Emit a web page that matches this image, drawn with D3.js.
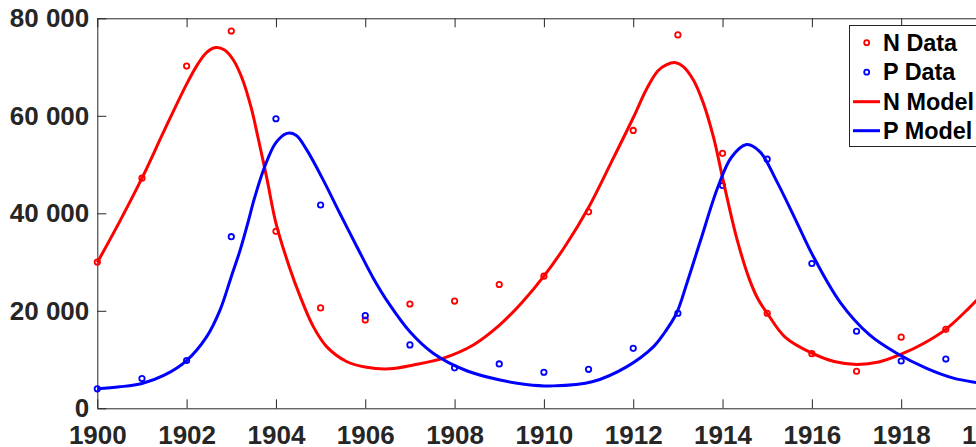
<!DOCTYPE html>
<html>
<head>
<meta charset="utf-8">
<script src="https://cdn.jsdelivr.net/npm/d3@7"></script>
<style>
  html, body { margin: 0; padding: 0; background: #fff; overflow: hidden; }
  svg { display: block; }
  .axis text { font-family: "Liberation Sans", Arial, sans-serif; font-weight: bold; font-size: 26px; fill: #262626; }
  .axis path, .axis line { stroke: #262626; stroke-width: 1; }
  .legend text { font-family: "Liberation Sans", Arial, sans-serif; font-weight: bold; font-size: 23.4px; fill: #000; }
</style>
</head>
<body>
<main></main>
<script>
// observed data (thousands)
const years = d3.range(1900, 1921);
const nData = [30, 47.2, 70.2, 77.4, 36.3, 20.6, 18.1, 21.4, 22, 25.4, 27.1, 40.3, 57, 76.6, 52.3, 19.5, 11.2, 7.6, 14.6, 16.2, 24.7];
const pData = [4, 6.1, 9.8, 35.2, 59.4, 41.7, 19, 13, 8.3, 9.1, 7.4, 8, 12.3, 19.5, 45.7, 51.1, 29.7, 15.8, 9.7, 10.1, 8.6];

// model curves (thousands)
const nModelT = [1900, 1900.5, 1901, 1901.5, 1902, 1902.25, 1902.45, 1902.65, 1902.85, 1903.05, 1903.25, 1903.45, 1903.6, 1903.8, 1904, 1904.3, 1904.54, 1904.84, 1905.14, 1905.58, 1906.03, 1906.55, 1907.08, 1907.75, 1908.42, 1909, 1909.5, 1910, 1910.5, 1911, 1911.5, 1912, 1912.3, 1912.55, 1912.75, 1912.95, 1913.12, 1913.35, 1913.57, 1913.8, 1914.02, 1914.32, 1914.6, 1914.8, 1915, 1915.4, 1916, 1916.5, 1917, 1917.5, 1918, 1918.5, 1919, 1919.5, 1920];
const nModel = [29.9, 38.3, 47.2, 57.0, 66.5, 70.6, 73.0, 74.0, 73.5, 71.4, 67.5, 61.5, 55.5, 47.0, 38.0, 29.0, 23.0, 16.7, 12.6, 9.6, 8.4, 8.1, 8.9, 10.3, 13.0, 17.0, 21.6, 27.1, 33.6, 41.2, 50.3, 59.6, 65.5, 69.2, 70.5, 70.9, 70.1, 67.3, 62.6, 55.5, 46.5, 34.8, 26.5, 22.3, 19.5, 14.6, 11.3, 9.6, 9.0, 9.5, 11.1, 13.3, 16.2, 20.4, 25.2];
const pModelT = [1900, 1900.5, 1901, 1901.5, 1902, 1902.45, 1902.75, 1903, 1903.2, 1903.4, 1903.5, 1903.75, 1904, 1904.25, 1904.45, 1904.69, 1905.06, 1905.43, 1905.81, 1906.18, 1906.55, 1907, 1907.52, 1908.27, 1909.02, 1909.6, 1910.2, 1911.1, 1911.85, 1912.45, 1912.7, 1912.97, 1913.2, 1913.5, 1913.9, 1914.2, 1914.54, 1914.84, 1915.2, 1915.66, 1916.03, 1916.63, 1917.3, 1917.9, 1918.57, 1919.17, 1919.68, 1920];
const pModel = [4.0, 4.4, 5.1, 6.8, 9.8, 14.7, 20.2, 27.0, 32.5, 39.0, 42.5, 49.6, 54.5, 56.4, 56.0, 53.0, 46.8, 40.0, 33.2, 26.7, 21.2, 15.7, 11.3, 7.7, 5.8, 4.9, 4.6, 5.5, 8.5, 12.6, 15.5, 19.5, 25.6, 34.2, 45.5, 51.5, 54.1, 52.6, 46.8, 38.2, 31.2, 21.8, 15.0, 11.3, 8.2, 6.2, 5.3, 4.9];

const xTicks = d3.range(1900, 1921, 2);
const yTicks = [0, 20000, 40000, 60000, 80000];
const yTickLabels = ["0", "20 000", "40 000", "60 000", "80 000"];

const legendLabels = ["N Data", "P Data", "N Model", "P Model"];
const colN = "#ff0000", colP = "#0000ff";

const W = 976, H = 447;
const svg = d3.select("main").append("svg").attr("width", W).attr("height", H);

const x = d3.scaleLinear().domain([1900, 1920]).range([97.3, 990.5]);
const y = d3.scaleLinear().domain([0, 80000]).range([408.3, 18.3]);

// axes (ticks point inward, box on)
svg.append("g").classed("axis", true)
  .attr("transform", `translate(0,${y(0)})`)
  .call(d3.axisBottom(x).tickValues(xTicks).tickFormat(d3.format("d"))
    .tickSizeInner(-9).tickSizeOuter(0).tickPadding(17));
svg.append("g").classed("axis", true)
  .attr("transform", `translate(0,${y(80000)})`)
  .call(d3.axisTop(x).tickValues(xTicks).tickFormat("")
    .tickSizeInner(-9).tickSizeOuter(0));
svg.append("g").classed("axis", true)
  .attr("transform", `translate(${x(1900)},0)`)
  .call(d3.axisLeft(y).tickValues(yTicks).tickFormat((d, i) => yTickLabels[i])
    .tickSizeInner(-9).tickSizeOuter(0).tickPadding(8));
svg.append("g").classed("axis", true)
  .attr("transform", `translate(${x(1920)},0)`)
  .call(d3.axisRight(y).tickValues(yTicks).tickFormat("")
    .tickSizeInner(-9).tickSizeOuter(0));

const line = d3.line()
  .x((d) => x(d[0]))
  .y((d) => y(d[1] * 1000))
  .curve(d3.curveCatmullRom.alpha(0.5));

const plot = svg.append("g");

// data markers
const markers = [
  { vals: nData, color: colN },
  { vals: pData, color: colP },
];
markers.forEach((m) => {
  plot.append("g")
    .selectAll("circle")
    .data(years.map((t, i) => [t, m.vals[i]]))
    .join("circle")
    .attr("cx", (d) => x(d[0]))
    .attr("cy", (d) => y(d[1] * 1000))
    .attr("r", 2.7)
    .attr("fill", "none")
    .attr("stroke", m.color)
    .attr("stroke-width", 1.8);
});

// model curves
plot.append("path")
  .datum(nModelT.map((t, i) => [t, nModel[i]]))
  .attr("d", line)
  .attr("fill", "none").attr("stroke", colN).attr("stroke-width", 3);
plot.append("path")
  .datum(pModelT.map((t, i) => [t, pModel[i]]))
  .attr("d", line)
  .attr("fill", "none").attr("stroke", colP).attr("stroke-width", 3);

// legend
const lg = svg.append("g").classed("legend", true);
lg.append("rect")
  .attr("x", 849.5).attr("y", 25.5)
  .attr("width", 160).attr("height", 121)
  .attr("fill", "#fff").attr("stroke", "#262626").attr("stroke-width", 1);
const rowY = [42.7, 72.2, 101.7, 130.7];
legendLabels.forEach((lab, i) => {
  const c = i % 2 === 0 ? colN : colP;
  if (i < 2) {
    lg.append("circle").attr("cx", 866.7).attr("cy", rowY[i]).attr("r", 2.5)
      .attr("fill", "none").attr("stroke", c).attr("stroke-width", 1.8);
  } else {
    lg.append("line").attr("x1", 853).attr("x2", 880)
      .attr("y1", rowY[i]).attr("y2", rowY[i])
      .attr("stroke", c).attr("stroke-width", 3);
  }
  lg.append("text").attr("x", 883).attr("y", rowY[i]).attr("dy", "0.35em").text(lab);
});
</script>
</body>
</html>
